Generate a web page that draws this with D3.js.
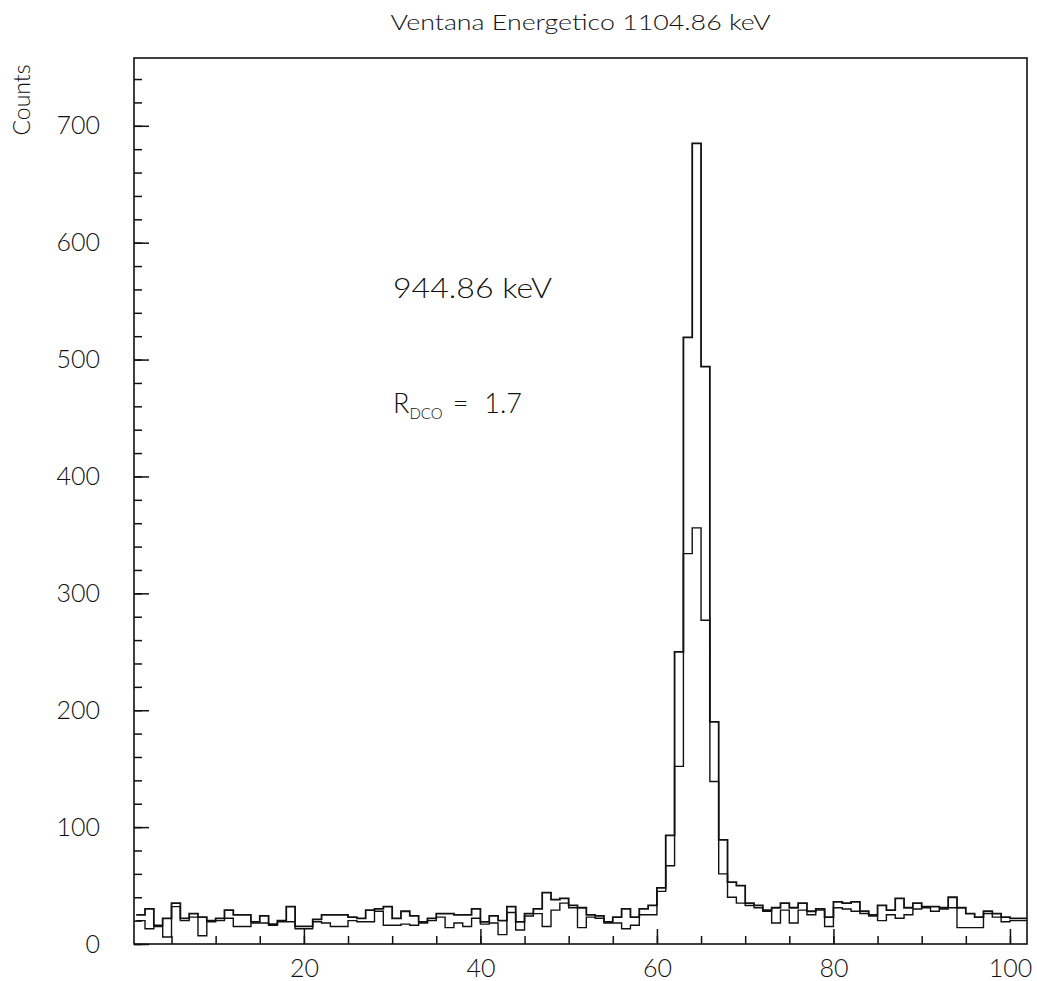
<!DOCTYPE html>
<html>
<head>
<meta charset="utf-8">
<script src="https://cdn.jsdelivr.net/npm/d3@7"></script>
<style>
  body { margin: 0; background: #fff; }
  svg { display: block; }
  text { font-family: Lato, "DejaVu Sans", sans-serif; font-weight: 300; fill: #111; }
</style>
</head>
<body>
<div id="chart"></div>
<script>
// channel bins (left edges), two coincidence spectra
const bins = d3.range(1, 102);

// gate spectrum with the big peak
const countsA = [
  25, 30, 16, 22, 35, 22, 26, 23, 20, 22,
  29, 25, 25, 19, 24, 17, 20, 32, 15, 15,
  21, 25, 25, 25, 23, 22, 29, 30, 32, 22,
  28, 24, 19, 22, 26, 26, 25, 25, 30, 19,
  24, 20, 32, 19, 26, 30, 44, 38, 39, 33,
  31, 25, 24, 19, 23, 30, 23, 30, 33, 48,
  93, 250, 519, 685, 494, 190, 89, 53, 50, 35,
  33, 29, 31, 35, 31, 35, 28, 30, 23, 36,
  35, 36, 28, 25, 33, 29, 39, 31, 35, 32,
  32, 31, 40, 31, 26, 23, 28, 26, 23, 22,
  22
];

// second spectrum
const countsB = [
  20, 13, 15, 6, 32, 20, 23, 7, 19, 20,
  22, 15, 15, 18, 18, 16, 19, 19, 13, 13,
  19, 18, 15, 15, 20, 19, 19, 28, 16, 16,
  17, 16, 18, 20, 23, 14, 18, 15, 22, 17,
  18, 8, 27, 12, 24, 26, 15, 29, 35, 31,
  14, 23, 22, 18, 18, 13, 16, 25, 25, 45,
  67, 152, 334, 356, 277, 139, 60, 40, 35, 33,
  31, 28, 18, 29, 18, 29, 25, 29, 15, 31,
  30, 28, 26, 24, 20, 25, 22, 25, 30, 31,
  28, 30, 31, 14, 14, 14, 26, 23, 19, 20,
  20
];

const yMajor = d3.range(0, 701, 100);
const yMinor = d3.range(0, 741, 20);
const xMajor = [20, 40, 60, 80, 100];
const xMinor = d3.range(5, 101, 5);

const title = "Ventana Energetico 1104.86 keV";
const peakLabel = "944.86 keV";

const W = 1037, H = 981;
const m = {left: 134, right: 1027, top: 58, bottom: 944};

const svg = d3.select("#chart").append("svg")
  .attr("width", W).attr("height", H);

const x = d3.scaleLinear().domain([0.75, 102]).range([m.left, 1027.6]);
const y = d3.scaleLinear().domain([0, 758]).range([m.bottom, m.top]);

// step path for one spectrum
const stepLine = d3.line()
  .x(d => x(d[0]))
  .y(d => y(d[1]))
  .curve(d3.curveStepAfter);

const toSteps = vals => {
  const pts = bins.map((b, i) => [b, vals[i]]);
  pts.push([bins[bins.length - 1] + 1, vals[vals.length - 1]]);
  return pts;
};

const plot = svg.append("g");
plot.append("clipPath").attr("id", "clip")
  .append("rect").attr("x", m.left).attr("y", m.top)
  .attr("width", m.right - m.left).attr("height", m.bottom - m.top);

[countsA, countsB].forEach((vals, i) => {
  plot.append("path")
    .attr("clip-path", "url(#clip)")
    .attr("d", stepLine(toSteps(vals)))
    .attr("fill", "none")
    .attr("stroke", "#111")
    .attr("stroke-width", i === 0 ? 1.8 : 1.4);
});

// frame
svg.append("rect")
  .attr("x", m.left).attr("y", m.top)
  .attr("width", m.right - m.left).attr("height", m.bottom - m.top)
  .attr("fill", "none").attr("stroke", "#111").attr("stroke-width", 1.6);

// y axis: minor + major inward ticks
svg.append("g")
  .attr("transform", `translate(${m.left},0)`)
  .call(d3.axisLeft(y).tickValues(yMinor).tickSize(-8).tickFormat(""))
  .call(g => g.select(".domain").remove());
svg.append("g")
  .attr("transform", `translate(${m.left},0)`)
  .call(d3.axisLeft(y).tickValues(yMajor).tickSize(-15).tickPadding(34).tickFormat(d3.format("d")))
  .call(g => g.select(".domain").remove())
  .call(g => g.selectAll("text").style("font-size", "25px").attr("fill", "#111"));

// x axis
svg.append("g")
  .attr("transform", `translate(0,${m.bottom})`)
  .call(d3.axisBottom(x).tickValues(xMinor).tickSize(-8).tickFormat(""))
  .call(g => g.select(".domain").remove());
svg.append("g")
  .attr("transform", `translate(0,${m.bottom})`)
  .call(d3.axisBottom(x).tickValues(xMajor).tickSize(-15).tickPadding(15).tickFormat(d3.format("d")))
  .call(g => g.select(".domain").remove())
  .call(g => g.selectAll("text").style("font-size", "25px").attr("fill", "#111"));

svg.selectAll(".tick line").attr("stroke", "#111").attr("stroke-width", 1.5);

// title
svg.append("text")
  .attr("x", (m.left + m.right) / 2).attr("y", 30)
  .attr("text-anchor", "middle")
  .attr("textLength", 380).attr("lengthAdjust", "spacingAndGlyphs")
  .style("font-size", "21px")
  .text(title);

// y label
svg.append("text")
  .attr("transform", "translate(30,100) rotate(-90)")
  .attr("text-anchor", "middle")
  .style("font-size", "23px")
  .text("Counts");

// annotations
svg.append("text")
  .attr("x", 393).attr("y", 298)
  .attr("textLength", 159).attr("lengthAdjust", "spacingAndGlyphs")
  .style("font-size", "27px")
  .text(peakLabel);

const r = svg.append("text")
  .attr("x", 393).attr("y", 413)
  .style("font-size", "27px");
r.append("tspan").text("R");
r.append("tspan").attr("dy", 6).style("font-size", "15px").text("DCO");
r.append("tspan").attr("dy", -6).attr("dx", 10).text("=");
r.append("tspan").attr("dx", 16).text("1.7");
</script>
</body>
</html>
